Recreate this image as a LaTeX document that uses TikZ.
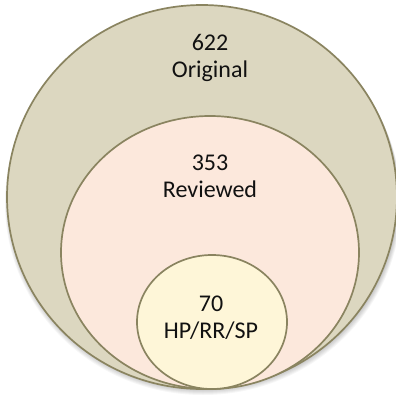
\documentclass[tikz,border=0pt]{standalone}
\usepackage{fontspec}
\setmainfont{Carlito}
\definecolor{outerfill}{HTML}{DCD7C0}
\definecolor{midfill}{HTML}{FCE8DC}
\definecolor{innerfill}{HTML}{FEF6D8}
\definecolor{edgecol}{HTML}{8A8460}
\definecolor{txt}{HTML}{111111}
\tikzset{
  ring/.style={draw=edgecol, line width=1.7pt},
  lbl/.style={align=center, text=txt, font=\fontsize{24}{27}\selectfont, inner sep=0pt}
}
\begin{document}
\begin{tikzpicture}[x=1pt,y=-1pt]
\useasboundingbox (0,0) rectangle (396,394);
\fill[white] (0,0) rectangle (396,394);
% soft shadow
\foreach \d in {1,2,3,4,5,6}{
  \fill[black, opacity=0.035] (203,{197+\d}) ellipse [x radius={195+\d*0.5}, y radius={192}];
}
\filldraw[ring, fill=outerfill] (202,197) ellipse [x radius=195, y radius=192];
\filldraw[ring, fill=midfill] (210,252.5) ellipse [x radius=149, y radius=136.5];
\filldraw[ring, fill=innerfill] (212,322) ellipse [x radius=75, y radius=67];
\node[lbl, anchor=base] (orig) at (210,77) {622\\Original};
\node[lbl, anchor=base] (rev) at (210,197) {353\\Reviewed};
\node[lbl, anchor=base] (hp) at (211,338) {70\\HP/RR/SP};
\end{tikzpicture}
\end{document}
